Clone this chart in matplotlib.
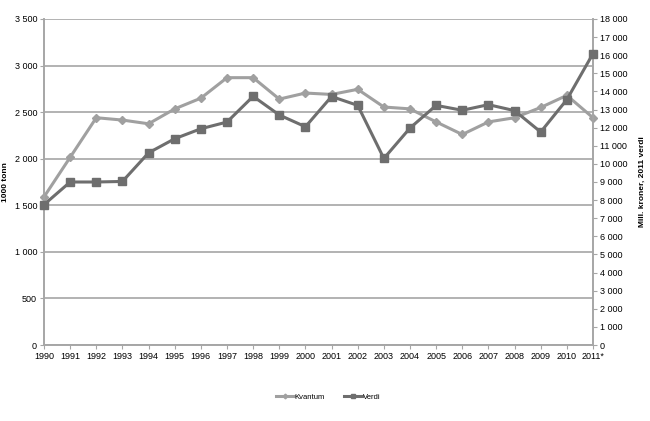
import matplotlib.pyplot as plt
from matplotlib.ticker import FuncFormatter

years = ["1990", "1991", "1992", "1993", "1994", "1995", "1996", "1997", "1998",
         "1999", "2000", "2001", "2002", "2003", "2004", "2005", "2006", "2007",
         "2008", "2009", "2010", "2011*"]

# Kvantum, 1000 tonn (left axis)
kvantum = [1590, 2015, 2440, 2415, 2375, 2535, 2650, 2870, 2870, 2640, 2705,
           2690, 2745, 2555, 2535, 2395, 2260, 2395, 2440, 2550, 2680, 2440]

# Verdi, mill. kroner 2011 (right axis)
verdi = [7750, 9000, 9000, 9030, 10610, 11390, 11940, 12310, 13730, 12700, 12050,
         13720, 13230, 10300, 11980, 13230, 12960, 13270, 12940, 11760, 13550, 16090]

plt.rcParams["font.family"] = ["Liberation Sans", "DejaVu Sans"]

fig = plt.figure(figsize=(6.5, 4.21), dpi=100)
ax = fig.add_axes([0.0677, 0.1805, 0.8446, 0.7744])
ax2 = ax.twinx()

x = list(range(len(years)))
grid_col = "#a6a6a6"

def thousands(v, pos):
    return f"{int(v):,}".replace(",", " ")

# left axis
ax.set_ylim(0, 3500)
ax.set_yticks(range(0, 3501, 500))
ax.yaxis.set_major_formatter(FuncFormatter(thousands))
ax.set_xlim(0, len(years) - 1)
ax.set_xticks(x)
ax.set_xticklabels(years)
ax.grid(axis="y", color=grid_col, linewidth=1.2)
ax.set_axisbelow(True)
ax.set_ylabel("1000 tonn", fontsize=6, fontweight="bold", labelpad=4)

# right axis
ax2.set_ylim(0, 18000)
ax2.set_yticks(range(0, 18001, 1000))
ax2.yaxis.set_major_formatter(FuncFormatter(thousands))
ax2.set_ylabel("Mill. kroner, 2011 verdi", fontsize=6, fontweight="bold", labelpad=8)

for a in (ax, ax2):
    a.spines["top"].set_visible(False)
    for s in ("left", "right", "bottom"):
        a.spines[s].set_color(grid_col)
        a.spines[s].set_linewidth(1.2)
    a.tick_params(labelsize=6.5, colors=grid_col, labelcolor="black", length=3, width=0.8, pad=2)

l1, = ax.plot(x, kvantum, color="#a0a0a0", linewidth=2.2, marker="D", markersize=4,
              label="Kvantum", zorder=3, clip_on=False)
l2, = ax2.plot(x, verdi, color="#6e6e6e", linewidth=2.2, marker="s", markersize=6,
               label="Verdi", zorder=4, clip_on=False)

fig.legend(handles=[l1, l2], loc="center", bbox_to_anchor=(0.505, 0.057), ncol=2,
           frameon=False, fontsize=5.5, handlelength=2.3, columnspacing=2.6,
           handletextpad=0.1, markerscale=0.6)

fig.savefig("out.png", dpi=100)
